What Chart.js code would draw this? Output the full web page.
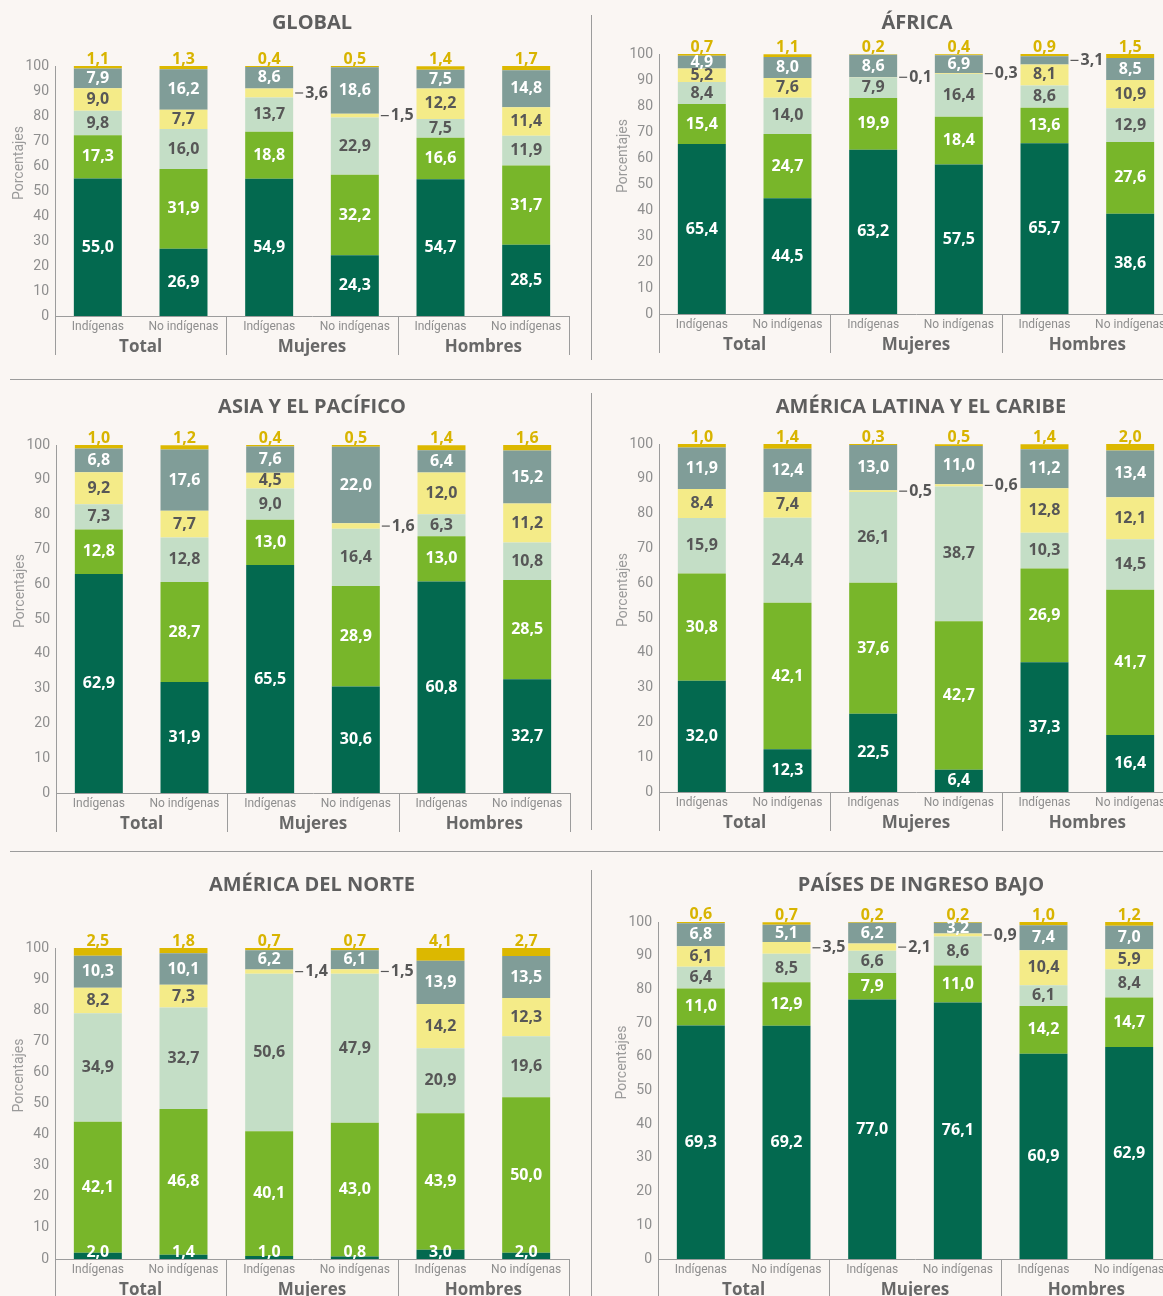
<!DOCTYPE html>
<html lang="es">
<head>
<meta charset="utf-8">
<script src="https://cdn.jsdelivr.net/npm/chart.js@4"></script>
<style>
  html, body { margin: 0; padding: 0; background: #faf6f3; }
  #lienzo { position: relative; width: 1163px; height: 1296px; overflow: hidden; background: #faf6f3; }
  #lienzo canvas { position: absolute; }
  .sep { position: absolute; background: #9c9c9c; }
</style>
</head>
<body>
<div id="lienzo">
  <div class="sep" style="left:591px;top:15px;width:1px;height:345px"></div>
  <div class="sep" style="left:10px;top:379px;width:1153px;height:1px"></div>
  <div class="sep" style="left:591px;top:393px;width:1px;height:437px"></div>
  <div class="sep" style="left:10px;top:851px;width:1153px;height:1px"></div>
  <div class="sep" style="left:591px;top:870px;width:1px;height:426px"></div>
</div>
<script>
// categorías del eje x y grupos
const categorias = ['Indígenas', 'No indígenas', 'Indígenas', 'No indígenas', 'Indígenas', 'No indígenas'];
const grupos = ['Total', 'Mujeres', 'Hombres'];
const marcasY = [0, 10, 20, 30, 40, 50, 60, 70, 80, 90, 100];
const series = ['Serie 1', 'Serie 2', 'Serie 3', 'Serie 4', 'Serie 5', 'Serie 6'];

// valores (%) por serie, de abajo hacia arriba
const global = [
  [55.0, 26.9, 54.9, 24.3, 54.7, 28.5],
  [17.3, 31.9, 18.8, 32.2, 16.6, 31.7],
  [9.8, 16.0, 13.7, 22.9, 7.5, 11.9],
  [9.0, 7.7, 3.6, 1.5, 12.2, 11.4],
  [7.9, 16.2, 8.6, 18.6, 7.5, 14.8],
  [1.1, 1.3, 0.4, 0.5, 1.4, 1.7]
];
const africa = [
  [65.4, 44.5, 63.2, 57.5, 65.7, 38.6],
  [15.4, 24.7, 19.9, 18.4, 13.6, 27.6],
  [8.4, 14.0, 7.9, 16.4, 8.6, 12.9],
  [5.2, 7.6, 0.1, 0.3, 8.1, 10.9],
  [4.9, 8.0, 8.6, 6.9, 3.1, 8.5],
  [0.7, 1.1, 0.2, 0.4, 0.9, 1.5]
];
const asia = [
  [62.9, 31.9, 65.5, 30.6, 60.8, 32.7],
  [12.8, 28.7, 13.0, 28.9, 13.0, 28.5],
  [7.3, 12.8, 9.0, 16.4, 6.3, 10.8],
  [9.2, 7.7, 4.5, 1.6, 12.0, 11.2],
  [6.8, 17.6, 7.6, 22.0, 6.4, 15.2],
  [1.0, 1.2, 0.4, 0.5, 1.4, 1.6]
];
const latam = [
  [32.0, 12.3, 22.5, 6.4, 37.3, 16.4],
  [30.8, 42.1, 37.6, 42.7, 26.9, 41.7],
  [15.9, 24.4, 26.1, 38.7, 10.3, 14.5],
  [8.4, 7.4, 0.5, 0.6, 12.8, 12.1],
  [11.9, 12.4, 13.0, 11.0, 11.2, 13.4],
  [1.0, 1.4, 0.3, 0.5, 1.4, 2.0]
];
const norte = [
  [2.0, 1.4, 1.0, 0.8, 3.0, 2.0],
  [42.1, 46.8, 40.1, 43.0, 43.9, 50.0],
  [34.9, 32.7, 50.6, 47.9, 20.9, 19.6],
  [8.2, 7.3, 1.4, 1.5, 14.2, 12.3],
  [10.3, 10.1, 6.2, 6.1, 13.9, 13.5],
  [2.5, 1.8, 0.7, 0.7, 4.1, 2.7]
];
const ingresoBajo = [
  [69.3, 69.2, 77.0, 76.1, 60.9, 62.9],
  [11.0, 12.9, 7.9, 11.0, 14.2, 14.7],
  [6.4, 8.5, 6.6, 8.6, 6.1, 8.4],
  [6.1, 3.5, 2.1, 0.9, 10.4, 5.9],
  [6.8, 5.1, 6.2, 3.2, 7.4, 7.0],
  [0.6, 0.7, 0.2, 0.2, 1.0, 1.2]
];

const colores = ['#03694f', '#78b62a', '#c4dec6', '#f4eb88', '#809d98', '#dcb800'];
const colorTexto = ['#ffffff', '#ffffff', '#575757', '#575757', '#ffffff', '#d8b400'];
const fuente = '"Open Sans", "Noto Sans", sans-serif';
const fuenteEje = 'Roboto, "Open Sans", sans-serif';

// ubicación de cada panel en la página
const paneles = [
  { titulo: 'GLOBAL', datos: global, left: 0, top: 0, alto: 378, eje: 55, y100: 66, y0: 316, tx: 312, ty: 22 },
  { titulo: 'ÁFRICA', datos: africa, left: 592, top: 0, alto: 378, eje: 659, y100: 54, y0: 314, tx: 917, ty: 22 },
  { titulo: 'ASIA Y EL PACÍFICO', datos: asia, left: 0, top: 382, alto: 468, eje: 56, y100: 445, y0: 793, tx: 312, ty: 406 },
  { titulo: 'AMÉRICA LATINA Y EL CARIBE', datos: latam, left: 592, top: 382, alto: 468, eje: 659, y100: 444, y0: 792, tx: 921, ty: 406 },
  { titulo: 'AMÉRICA DEL NORTE', datos: norte, left: 0, top: 854, alto: 460, eje: 55, y100: 948, y0: 1259, tx: 312, ty: 884 },
  { titulo: 'PAÍSES DE INGRESO BAJO', datos: ingresoBajo, left: 592, top: 854, alto: 460, eje: 658, y100: 922, y0: 1259, tx: 921, ty: 884 }
];

const ANCHO = 590, ANCHO_Y = 50, ALTO_X = 42, PLOT = 514;

function fmt(v) { return v.toFixed(1).replace('.', ','); }

// segmentos muy chicos que van rotulados afuera con una rayita
function afuera(i, v) {
  return (i === 3 && v < 4) || (i === 4 && v < 3.15);
}

function crearPanel(p) {
  const canvas = document.createElement('canvas');
  canvas.width = ANCHO;
  canvas.height = p.alto;
  canvas.style.left = p.left + 'px';
  canvas.style.top = p.top + 'px';
  document.getElementById('lienzo').appendChild(canvas);

  const izq = p.eje - p.left - ANCHO_Y;
  const arriba = p.y100 - p.top;
  const abajo = (p.top + p.alto) - p.y0 - ALTO_X;
  const der = (p.left + ANCHO) - (p.eje + PLOT);

  const rotulos = {
    id: 'rotulos',
    afterDatasetsDraw(chart) {
      const ctx = chart.ctx;
      ctx.save();
      ctx.font = '700 16px ' + fuente;
      ctx.textAlign = 'center';
      chart.data.datasets.forEach((ds, i) => {
        chart.getDatasetMeta(i).data.forEach((bar, j) => {
          const v = ds.data[j];
          const medio = (bar.y + bar.base) / 2;
          if (i === 5) {
            ctx.fillStyle = colorTexto[5];
            ctx.textBaseline = 'alphabetic';
            ctx.fillText(fmt(v), bar.x, bar.y - 2);
          } else if (afuera(i, v)) {
            const x0 = bar.x + bar.width / 2 + 2;
            ctx.strokeStyle = '#575757';
            ctx.lineWidth = 1.2;
            ctx.beginPath();
            ctx.moveTo(x0, medio);
            ctx.lineTo(x0 + 8, medio);
            ctx.stroke();
            ctx.fillStyle = '#575757';
            ctx.textAlign = 'left';
            ctx.textBaseline = 'middle';
            ctx.fillText(fmt(v), x0 + 10, medio);
            ctx.textAlign = 'center';
          } else {
            ctx.fillStyle = colorTexto[i];
            ctx.textBaseline = 'middle';
            const yy = i === 0 ? Math.min(medio, bar.base - 7) : medio;
            ctx.fillText(fmt(v), bar.x, yy);
          }
        });
      });
      ctx.restore();
    }
  };

  const marco = {
    id: 'marco',
    afterDraw(chart) {
      const { ctx, chartArea: a } = chart;
      const paso = (a.right - a.left) / 3;
      ctx.save();
      // divisiones de grupos
      ctx.strokeStyle = '#9c9c9c';
      ctx.lineWidth = 1;
      for (let g = 0; g <= 3; g++) {
        const px = Math.round(a.left + g * paso) + 0.5;
        ctx.beginPath();
        ctx.moveTo(px, a.bottom);
        ctx.lineTo(px, a.bottom + 39);
        ctx.stroke();
      }
      ctx.fillStyle = '#686868';
      ctx.textAlign = 'center';
      ctx.textBaseline = 'middle';
      ctx.font = '700 17px ' + fuente;
      grupos.forEach((g, k) => ctx.fillText(g, a.left + (k + 0.5) * paso, a.bottom + 31));
      // título
      ctx.font = '700 20px ' + fuente;
      ctx.fillStyle = '#5e5e5e';
      ctx.fillText(p.titulo, p.tx - p.left, p.ty - p.top + 1);
      // título del eje y
      ctx.translate(a.left - 36, (a.top + a.bottom) / 2 - 28);
      ctx.rotate(-Math.PI / 2);
      ctx.font = '400 14px ' + fuenteEje;
      ctx.fillStyle = '#9a9a9a';
      ctx.fillText('Porcentajes', 0, 0);
      ctx.restore();
    }
  };

  new Chart(canvas, {
    type: 'bar',
    data: {
      labels: categorias,
      datasets: p.datos.map((d, i) => ({
        label: series[i],
        data: d,
        backgroundColor: colores[i],
        borderWidth: 0,
        categoryPercentage: 1,
        barPercentage: 0.56
      }))
    },
    options: {
      responsive: false,
      animation: false,
      layout: { padding: { left: izq, top: arriba, bottom: abajo, right: der } },
      plugins: { legend: { display: false }, tooltip: { enabled: false } },
      scales: {
        x: {
          stacked: true,
          grid: { display: false, drawTicks: false },
          border: { color: '#9c9c9c', width: 1 },
          ticks: { color: '#8e8e8e', font: { family: fuenteEje, size: 12 }, padding: 4, maxRotation: 0, autoSkip: false },
          afterFit: s => { s.height = ALTO_X; }
        },
        y: {
          stacked: true,
          min: 0,
          max: 100,
          afterBuildTicks: s => { s.ticks = marcasY.map(v => ({ value: v })); },
          grid: { display: false, drawTicks: false },
          border: { color: '#9c9c9c', width: 1 },
          ticks: { color: '#8e8e8e', font: { family: fuenteEje, size: 14 }, padding: 6 },
          afterFit: s => { s.width = ANCHO_Y; }
        }
      }
    },
    plugins: [rotulos, marco]
  });
}

paneles.forEach(crearPanel);
</script>
</body>
</html>
